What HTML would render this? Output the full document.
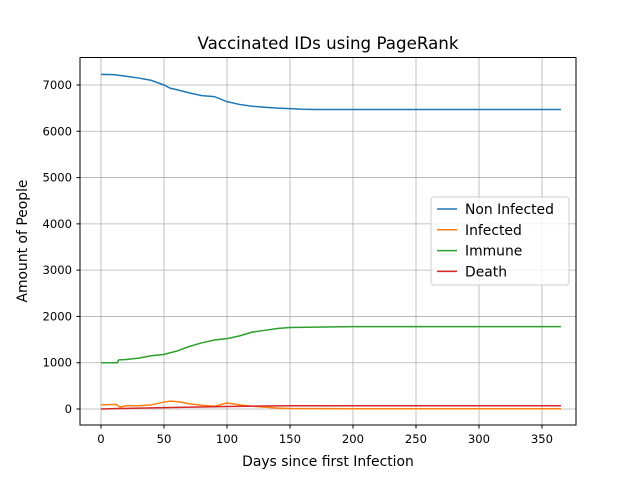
<!DOCTYPE html>
<html><head><meta charset="utf-8"><style>
body{margin:0;background:#fff;font-family:"DejaVu Sans","Liberation Sans",sans-serif;}
svg text{font-family:"DejaVu Sans","Liberation Sans",sans-serif;}
</style></head><body>
<svg id="chart" width="640" height="478" xmlns="http://www.w3.org/2000/svg">
<rect width="640" height="478" fill="#fff"/>
<g id="grid"></g>
<g id="series"></g>
<rect x="80" y="57.5" width="496" height="367.5" fill="none" stroke="#000" stroke-width="1"/>
<g id="ticks"></g>
<text x="328" y="49" text-anchor="middle" font-size="16.7">Vaccinated IDs using PageRank</text>
<text x="328" y="466" text-anchor="middle" font-size="13.9">Days since first Infection</text>
<text transform="translate(27,241) rotate(-90)" text-anchor="middle" font-size="13.9">Amount of People</text>
<g id="legend"></g>
</svg>
<script>
const xTicks=[0,50,100,150,200,250,300,350];
const yTicks=[0,1000,2000,3000,4000,5000,6000,7000];
const nonInfDays=[0,10,20,30,40,50,55,60,70,80,90,100,110,120,130,140,150,160,170,365];
const nonInfVals=[7230,7225,7190,7150,7100,7000,6930,6900,6830,6770,6750,6640,6580,6540,6520,6500,6490,6475,6470,6470];
const immDays=[0,13,14,20,30,40,50,60,70,80,90,100,110,120,130,140,150,170,200,365];
const immVals=[1000,1000,1060,1070,1100,1150,1180,1250,1350,1430,1490,1520,1580,1660,1700,1740,1760,1770,1780,1780];
const infDays=[0,12,15,20,30,40,50,55,60,65,70,80,90,100,105,110,120,130,140,150,200,365];
const infVals=[90,100,40,70,70,90,150,170,160,140,110,80,60,130,110,90,60,40,20,10,5,5];
const deathDays=[0,15,50,100,130,150,365];
const deathVals=[0,10,30,55,65,70,70];
const X=d=>101+d*1.26;
const Y=v=>409-v*0.046286;
const NS="http://www.w3.org/2000/svg";
function mk(t,a,p){const e=document.createElementNS(NS,t);for(const k in a)e.setAttribute(k,a[k]);p.appendChild(e);return e;}
const grid=document.getElementById('grid'),ticks=document.getElementById('ticks');
xTicks.forEach(t=>{
 const l=mk('line',{x1:X(t),x2:X(t),y1:57.5,y2:425,stroke:'#b0b0b0','stroke-width':0.8},grid);
 
 
 const k=mk('line',{x1:X(t),x2:X(t),y1:425,y2:428.5,stroke:'#000'},ticks);
 
 
 const tx=mk('text',{x:X(t),y:443,'text-anchor':'middle','font-size':11.6},ticks);tx.textContent=t;
 
 
});
yTicks.forEach(t=>{
 const l=mk('line',{x1:80,x2:576,y1:Y(t),y2:Y(t),stroke:'#b0b0b0','stroke-width':0.8},grid);
 
 
 const k=mk('line',{x1:76.5,x2:80,y1:Y(t),y2:Y(t),stroke:'#000'},ticks);
 
 
 const tx=mk('text',{x:72,y:Y(t)+4,'text-anchor':'end','font-size':11.6},ticks);tx.textContent=t;
 
 
});
const ser=document.getElementById('series');
const defs=[['non-infected-line',nonInfDays,nonInfVals,'#1f77b4'],['infected-line',infDays,infVals,'#ff7f0e'],['immune-line',immDays,immVals,'#2ca02c'],['death-line',deathDays,deathVals,'#d62728']];
defs.forEach(([n,ds,vs,c])=>{
 const p=mk('polyline',{points:ds.map((d,i)=>X(d)+','+Y(vs[i])).join(' '),fill:'none',stroke:c,'stroke-width':1.5},ser);
 
 
});
const lg=document.getElementById('legend');
const box=mk('rect',{x:431,y:197,width:138,height:88,rx:3,fill:'#fff','fill-opacity':0.8,stroke:'#ccc'},lg);


const names=['Non Infected','Infected','Immune','Death'],cols=['#1f77b4','#ff7f0e','#2ca02c','#d62728'];
names.forEach((nm,i)=>{
 const y=209+i*20.8;
 const g=mk('g',{},lg);
 
 
 mk('line',{x1:437,x2:457,y1:y,y2:y,stroke:cols[i],'stroke-width':1.5},g);
 const t=mk('text',{x:465,y:y+5,'font-size':13.9},g);t.textContent=nm;
});
</script>
</body></html>
